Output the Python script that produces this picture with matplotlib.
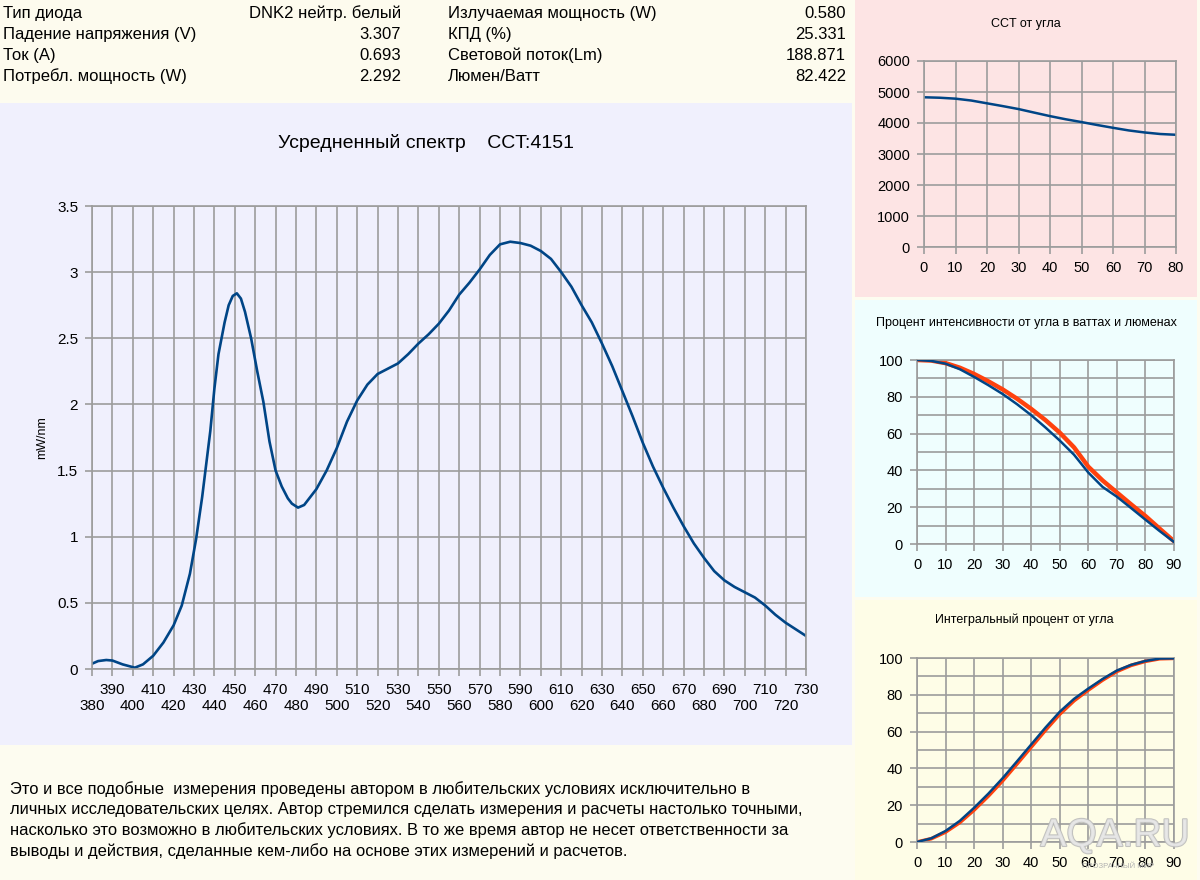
import matplotlib
matplotlib.use('Agg')
import matplotlib.pyplot as plt
from matplotlib.patches import Rectangle
import matplotlib.patheffects as pe

plt.rcParams['font.family'] = ['Liberation Sans', 'DejaVu Sans']

# --- данные ---
info_left = [('Тип диода', 'DNK2 нейтр. белый'),
             ('Падение напряжения (V)', '3.307'),
             ('Ток (A)', '0.693'),
             ('Потребл. мощность (W)', '2.292')]
info_right = [('Излучаемая мощность (W)', '0.580'),
              ('КПД (%)', '25.331'),
              ('Световой поток(Lm)', '188.871'),
              ('Люмен/Ватт', '82.422')]

wl = [380, 383, 387, 390, 395, 401, 405, 410, 415, 420, 424, 428, 431, 434, 436,
      438, 440, 442, 445, 447, 449, 451, 453, 455, 458, 461, 464, 467, 470, 473,
      476, 478, 481, 484, 487, 490, 495, 500, 505, 510, 515, 520, 525, 530, 535,
      540, 545, 550, 555, 560, 565, 570, 575, 580, 585, 590, 595, 600, 605, 610,
      615, 620, 625, 630, 635, 640, 645, 650, 655, 660, 665, 670, 675, 680, 685,
      690, 695, 700, 705, 710, 715, 720, 725, 730]
spec = [0.04, 0.06, 0.068, 0.064, 0.035, 0.01, 0.035, 0.1, 0.2, 0.33, 0.48, 0.72,
        0.98, 1.3, 1.55, 1.8, 2.12, 2.38, 2.62, 2.75, 2.82, 2.84, 2.8, 2.7, 2.5,
        2.25, 2.02, 1.72, 1.5, 1.38, 1.29, 1.25, 1.22, 1.24, 1.3, 1.36, 1.5,
        1.67, 1.87, 2.03, 2.15, 2.23, 2.27, 2.31, 2.38, 2.46, 2.53, 2.61, 2.71,
        2.83, 2.92, 3.02, 3.13, 3.21, 3.23, 3.22, 3.2, 3.16, 3.1, 3.0, 2.89,
        2.75, 2.62, 2.46, 2.29, 2.1, 1.91, 1.71, 1.53, 1.37, 1.22, 1.08, 0.95,
        0.84, 0.74, 0.67, 0.62, 0.58, 0.54, 0.48, 0.41, 0.35, 0.3, 0.25]

cct_ang = [0, 5, 10, 15, 20, 25, 30, 35, 40, 45, 50, 55, 60, 65, 70, 75, 80]
cct = [4830, 4815, 4785, 4725, 4635, 4545, 4450, 4335, 4222, 4120, 4030,
       3935, 3845, 3760, 3695, 3645, 3620]

ang = [0, 5, 10, 15, 20, 25, 30, 35, 40, 45, 50, 55, 60, 65, 70, 75, 80, 85, 90]
int_w = [100, 99.5, 98, 95, 90.8, 86.3, 81.5, 76, 70, 63.3, 56.2, 48.5, 38.8,
         31, 25.7, 19.5, 13.2, 7, 1.1]
int_lm = [100, 99.7, 98.3, 95.8, 92.4, 88.4, 84, 79, 73.4, 67.3, 60.5, 52.5,
          42, 34.5, 28, 21.5, 15.2, 8.3, 1.5]
integ_w = [0, 2, 6, 11.5, 18.6, 26.3, 34.7, 43.8, 53, 62.2, 70.8, 77.8, 83.4,
           88.6, 93.2, 96.3, 98.4, 99.7, 99.8]
integ_lm = [0, 1.8, 5.4, 10.6, 17.4, 25, 33.3, 42.4, 51.6, 60.8, 69.5, 76.8,
            82.6, 88, 92.7, 96, 98.2, 99.6, 99.8]

disclaimer = ('Это и все подобные  измерения проведены автором в любительских условиях исключительно в\n'
              'личных исследовательских целях. Автор стремился сделать измерения и расчеты настолько точными,\n'
              'насколько это возможно в любительских условиях. В то же время автор не несет ответственности за\n'
              'выводы и действия, сделанные кем-либо на основе этих измерений и расчетов.')

BLUE = '#004586'
ORANGE = '#ff420e'
GRID = '#9c9c9c'
W, H = 1200, 880

fig = plt.figure(figsize=(12, 8.8), dpi=100)
fig.patch.set_facecolor('#fdfcf0')


def panel(x0, y0, x1, y1, color):
    fig.patches.append(Rectangle((x0 / W, 1 - y1 / H), (x1 - x0) / W, (y1 - y0) / H,
                                 transform=fig.transFigure, facecolor=color,
                                 edgecolor='none', zorder=-10))


def ax_px(x0, y0, x1, y1):
    a = fig.add_axes([x0 / W, 1 - y1 / H, (x1 - x0) / W, (y1 - y0) / H])
    a.set_zorder(5)
    return a


def style(ax, color=GRID):
    ax.set_facecolor('none')
    for s in ax.spines.values():
        s.set_color(color)
        s.set_linewidth(1.2)
    ax.grid(True, color=color, linewidth=1.2)
    ax.set_axisbelow(True)
    ax.tick_params(colors=color, labelcolor='black', length=5, width=1.2)


panel(0, 0, 850, 100, '#fdfbee')
panel(0, 103, 852, 745, '#f0f0fd')
panel(855, 0, 1197, 297, '#fde4e4')
panel(855, 300, 1197, 597, '#effefe')
panel(855, 600, 1197, 880, '#fefde7')

# --- таблица параметров ---
for i, (k, v) in enumerate(info_left):
    y = 1 - (18 + 21 * i) / H
    fig.text(3 / W, y, k, fontsize=12, va='baseline')
    fig.text(401 / W, y, v, fontsize=12, va='baseline', ha='right')
for i, (k, v) in enumerate(info_right):
    y = 1 - (18 + 21 * i) / H
    fig.text(448 / W, y, k, fontsize=12, va='baseline')
    fig.text(846 / W, y, v, fontsize=12, va='baseline', ha='right')

# --- спектр ---
ax = ax_px(92, 206, 806, 669)
style(ax)
ax.plot(wl, spec, color=BLUE, linewidth=1.9)
ax.set_xlim(380, 730)
ax.set_ylim(0, 3.5)
xt = list(range(380, 731, 10))
ax.set_xticks(xt)
ax.set_xticklabels([str(t) if (t // 10) % 2 else '\n' + str(t) for t in xt])
ax.set_yticks([0, 0.5, 1, 1.5, 2, 2.5, 3, 3.5])
ax.set_yticklabels(['0', '0.5', '1', '1.5', '2', '2.5', '3', '3.5'])
ax.tick_params(labelsize=11, pad=5)
ax.set_ylabel('mW/nm', fontsize=9, labelpad=6)
fig.text(426 / W, 1 - 143 / H, 'Усредненный спектр    CCT:4151', fontsize=14,
         ha='center', va='center')

# --- CCT от угла ---
ax1 = ax_px(924, 61, 1176, 247)
style(ax1)
ax1.plot(cct_ang, cct, color=BLUE, linewidth=1.8)
ax1.set_xlim(0, 80)
ax1.set_ylim(0, 6000)
ax1.set_xticks(range(0, 81, 10))
ax1.set_yticks(range(0, 6001, 1000))
ax1.tick_params(labelsize=10.5, pad=5)
fig.text(1026 / W, 1 - 24 / H, 'CCT от угла', fontsize=9, ha='center', va='center')

# --- процент интенсивности ---
ax2 = ax_px(917, 360, 1174, 544)
style(ax2)
ax2.plot(ang, int_w, color=BLUE, linewidth=1.8, zorder=3)
ax2.plot(ang, int_lm, color=ORANGE, linewidth=3.2, zorder=2)
ax2.set_xlim(0, 90)
ax2.set_ylim(0, 100)
ax2.set_xticks(range(0, 91, 10))
ax2.set_yticks(range(0, 101, 20))
ax2.set_yticks(range(10, 100, 20), minor=True)
ax2.grid(True, which='minor', axis='y', color=GRID, linewidth=1.2)
ax2.tick_params(labelsize=10.5, pad=5)
ax2.tick_params(which='minor', length=0)
fig.text(1026 / W, 1 - 323 / H, 'Процент интенсивности от угла в ваттах и люменах',
         fontsize=9, ha='center', va='center')

# --- интегральный процент ---
ax3 = ax_px(917, 658, 1174, 842)
style(ax3)
ax3.plot(ang, integ_lm, color=ORANGE, linewidth=2.6, zorder=2)
ax3.plot(ang, integ_w, color=BLUE, linewidth=1.8, zorder=3)
ax3.set_xlim(0, 90)
ax3.set_ylim(0, 100)
ax3.set_xticks(range(0, 91, 10))
ax3.set_yticks(range(0, 101, 20))
ax3.set_yticks(range(10, 100, 20), minor=True)
ax3.grid(True, which='minor', axis='y', color=GRID, linewidth=1.2)
ax3.tick_params(labelsize=10.5, pad=5)
ax3.tick_params(which='minor', length=0)
fig.text(1024 / W, 1 - 620 / H, 'Интегральный процент от угла', fontsize=9,
         ha='center', va='center')

# --- текст внизу ---
fig.text(10 / W, 1 - 781 / H, disclaimer, fontsize=11.9, va='top', ha='left',
         linespacing=1.4)

# --- водяной знак ---
fig.text(1115 / W, 1 - 836 / H, 'AQA.RU', fontsize=28, ha='center', va='center',
         color='#e8e8e8', alpha=0.85, zorder=10,
         path_effects=[pe.withStroke(linewidth=1.5, foreground='#b8b8b8')])
fig.text(1118 / W, 1 - 866 / H, 'ПРОЗРАЧНЫЙ МИР', fontsize=5.5,
         ha='center', va='center', color='#b0b0b0', zorder=10)

fig.savefig('out.png', dpi=100, facecolor=fig.get_facecolor())
